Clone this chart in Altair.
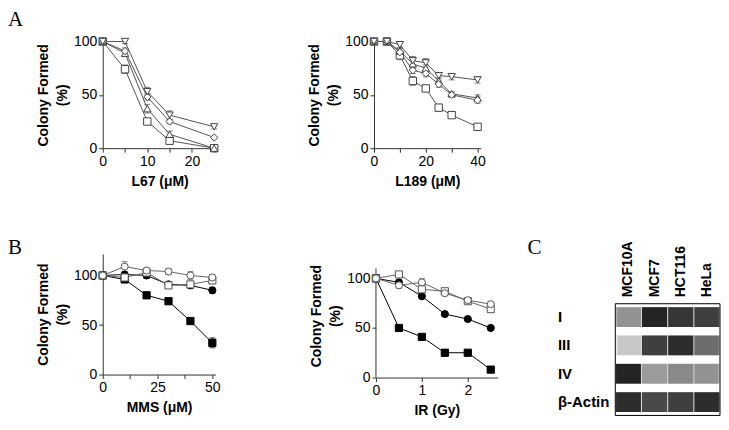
import altair as alt
import pandas as pd

FONT = "Liberation Sans"
SERIF = "Liberation Serif"

# ---------------- Panel A (left): L67 ----------------
a1_x = [0, 5, 10, 15, 25]
a_names = ["A-square", "A-triangle-up", "A-diamond", "A-triangle-down"]
a1_vals = [
    [100, 74, 25, 7, 0],      # square
    [100, 89, 37, 13, 0],     # triangle-up
    [100, 91, 48, 25, 10],    # diamond
    [100, 100, 53, 31, 20],   # triangle-down
]
a1_errs = [
    [0, 4, 2, 1, 0],
    [0, 3, 4, 3, 0],
    [0, 3, 3, 2, 1],
    [0, 2, 4, 4, 2],
]

# ---------------- Panel A (right): L189 ----------------
a2_x = [0, 5, 10, 15, 20, 25, 30, 40]
a2_vals = [
    [100, 100, 87, 63, 56, 38, 31, 20],   # square
    [100, 100, 91, 79, 75, 63, 51, 47],   # triangle-up
    [100, 100, 90, 73, 70, 60, 50, 45],   # diamond
    [100, 100, 97, 82, 80, 68, 67, 64],   # triangle-down
]
a2_errs = [
    [0, 3, 4, 4, 2, 3, 2, 2],
    [0, 2, 3, 4, 3, 3, 2, 3],
    [0, 2, 3, 3, 3, 3, 2, 3],
    [0, 2, 3, 4, 4, 3, 3, 3],
]

# ---------------- Panel B (left): MMS ----------------
b_names = ["B-filled-square", "B-filled-circle", "B-open-square", "B-open-circle"]
b1_x = [0, 10, 20, 30, 40, 50]
b1_vals = [
    [100, 96, 80, 74, 54, 32],
    [100, 101, 100, 91, 90, 85],
    [100, 98, 103, 90, 91, 95],
    [100, 109, 105, 104, 100, 98],
]
b1_errs = [
    [0, 3, 3, 2, 2, 5],
    [0, 2, 3, 3, 3, 3],
    [0, 2, 3, 3, 3, 3],
    [0, 5, 3, 3, 4, 3],
]

# ---------------- Panel B (right): IR ----------------
b2_x = [0, 0.5, 1, 1.5, 2, 2.5]
b2_vals = [
    [100, 50, 41, 25, 25, 8],
    [100, 96, 82, 64, 59, 50],
    [100, 104, 89, 87, 77, 69],
    [100, 93, 96, 85, 78, 74],
]
b2_errs = [
    [0, 1, 1, 3, 1, 3],
    [0, 1, 2, 1, 1, 1],
    [0, 2, 2, 2, 2, 2],
    [0, 3, 4, 2, 2, 2],
]

# marker / line styles for every series (A series first, then B series)
all_names = a_names + b_names
all_shapes = ["square", "triangle-up", "diamond", "triangle-down",
              "square", "circle", "square", "circle"]
all_fills = ["white"] * 4 + ["black", "black", "white", "white"]
all_strokes = ["#444444"] * 4 + ["black", "black", "#555555", "#555555"]
all_line_colors = ["#555555"] * 4 + ["black", "black", "#666666", "#666666"]
all_line_widths = [1] * 4 + [1.6, 1.6, 1, 1]
all_sizes = [55, 50, 50, 50, 50, 30, 55, 55]

# ---------------- Panel C: western blot ----------------
lanes = ["MCF10A", "MCF7", "HCT116", "HeLa"]
blot_rows = ["I", "III", "IV", "β-Actin"]
blot_intensity = [
    [0.35, 0.95, 0.85, 0.80],   # I
    [0.05, 0.80, 0.90, 0.55],   # III
    [0.95, 0.30, 0.40, 0.35],   # IV
    [0.90, 0.75, 0.80, 0.90],   # beta-actin
]

color_scale = alt.Scale(domain=all_names, range=all_line_colors)
width_scale = alt.Scale(domain=all_names, range=all_line_widths)
shape_scale = alt.Scale(domain=all_names, range=all_shapes)
fill_scale = alt.Scale(domain=all_names, range=all_fills)
stroke_scale = alt.Scale(domain=all_names, range=all_strokes)
size_scale = alt.Scale(domain=all_names, range=all_sizes)


def make_panel(x_vals, names, vals, errs, xdom, xticks, label_mod, xtitle,
               ydom, w, h, letter=None, letter_xy=(0, 0), axis_top=None):
    rows = []
    for name, vs, es in zip(names, vals, errs):
        for xv, v, e in zip(x_vals, vs, es):
            rows.append({"x": xv, "val": v, "err": e, "series": name})
    df = pd.DataFrame(rows)
    xs = alt.Scale(domain=xdom, nice=False, zero=False)
    ys = alt.Scale(domain=ydom, nice=False, zero=False)
    xax = alt.Axis(values=xticks,
                   labelExpr=f"datum.value % {label_mod} === 0 ? '' + datum.value : ''",
                   title=xtitle, grid=False, tickSize=4, labelPadding=2,
                   titlePadding=6, labelFlush=False)
    yax = alt.Axis(values=[0, 50, 100], title=["Colony Formed", "(%)"],
                   grid=False, tickSize=4, labelPadding=2, titlePadding=4,
                   titleLineHeight=19, domain=axis_top is None)
    X = alt.X("x:Q", scale=xs, axis=xax)
    Y = alt.Y("val:Q", scale=ys, axis=yax)
    base = alt.Chart(df)
    lines = base.mark_line().encode(
        x=X, y=Y,
        color=alt.Color("series:N", scale=color_scale, legend=None),
        strokeWidth=alt.StrokeWidth("series:O", scale=width_scale, legend=None),
    )
    errbars = base.mark_errorbar(ticks=True, size=6, thickness=1).encode(
        x=X, y=Y, yError="err:Q",
        color=alt.Color("series:N", scale=color_scale, legend=None),
    )
    pts = base.mark_point(filled=True, opacity=1, strokeWidth=1).encode(
        x=X, y=Y,
        shape=alt.Shape("series:N", scale=shape_scale, legend=None),
        fill=alt.Fill("series:N", scale=fill_scale, legend=None),
        stroke=alt.Stroke("series:N", scale=stroke_scale, legend=None),
        size=alt.Size("series:O", scale=size_scale, legend=None),
    )
    layers = [lines, errbars, pts]
    if axis_top is not None:
        axis_line = alt.Chart(pd.DataFrame({"a": [0]})).mark_rule(color="#333333").encode(
            x=alt.datum(0), y=alt.datum(0), y2=alt.datum(axis_top))
        layers.insert(0, axis_line)
    if letter is not None:
        lt = alt.Chart(pd.DataFrame({"t": [letter]})).mark_text(
            font=SERIF, fontSize=21, align="left", baseline="alphabetic"
        ).encode(text="t:N", x=alt.value(letter_xy[0]), y=alt.value(letter_xy[1]))
        layers.append(lt)
    return alt.layer(*layers).properties(width=w, height=h)


A1 = make_panel(a1_x, a_names, a1_vals, a1_errs,
                xdom=[0, 25.5], xticks=[0, 5, 10, 15, 20, 25], label_mod=10,
                xtitle="L67 (μM)", ydom=[0, 100], w=114, h=107,
                letter="A", letter_xy=(-95, -16))
A2 = make_panel(a2_x, a_names, a2_vals, a2_errs,
                xdom=[0, 41.2], xticks=[0, 10, 20, 30, 40], label_mod=20,
                xtitle="L189 (μM)", ydom=[0, 100], w=107, h=107)
B1 = make_panel(b1_x, b_names, b1_vals, b1_errs,
                xdom=[0, 51.4], xticks=[0, 12.5, 25, 37.5, 50], label_mod=25,
                xtitle="MMS (μM)", ydom=[0, 121.8], w=113, h=121,
                letter="B", letter_xy=(-95, 0))
B2 = make_panel(b2_x, b_names, b2_vals, b2_errs,
                xdom=[0, 2.65], xticks=[0, 0.5, 1, 1.5, 2, 2.5], label_mod=1,
                xtitle="IR (Gy)", ydom=[0, 124.7], w=122, h=124, axis_top=110)

# Western blot panel
cells = []
for r, row_vals in zip(blot_rows, blot_intensity):
    for ln, v in zip(lanes, row_vals):
        cells.append({"row": r, "lane": ln, "intensity": v})
cell_df = pd.DataFrame(cells)
strip_df = pd.DataFrame({"row": blot_rows})

C_W, C_H = 105, 162
yscale = alt.Scale(domain=blot_rows, range=[50, C_H], paddingInner=0.3, paddingOuter=0.12)
xscale = alt.Scale(domain=lanes, paddingInner=0.04, paddingOuter=0.02)
row_axis = alt.Axis(title=None, orient="left", domain=False, ticks=False, tickSize=0,
                    labelAlign="left", labelPadding=58, labelFontWeight="bold",
                    labelFontSize=15, labelFont=FONT)
lane_axis = alt.Axis(title=None, orient="top", domain=False, ticks=False, tickSize=0,
                     labelAngle=-90, labelPadding=7, labelFontWeight="bold",
                     labelFontSize=14, offset=-50, labelFont=FONT)

strips = alt.Chart(strip_df).mark_rect(color="#d6d6d6").encode(
    y=alt.Y("row:N", scale=yscale, axis=row_axis),
    x=alt.value(2), x2=alt.value(C_W - 2),
)
bands = alt.Chart(cell_df).mark_rect(color="#111111").encode(
    x=alt.X("lane:N", scale=xscale, axis=lane_axis),
    y=alt.Y("row:N", scale=yscale, axis=row_axis),
    opacity=alt.Opacity("intensity:Q", scale=alt.Scale(domain=[0, 1], range=[0.02, 0.95]),
                        legend=None),
)
frame = alt.Chart(pd.DataFrame({"a": [0]})).mark_rect(
    filled=False, stroke="black", strokeWidth=1
).encode(x=alt.value(0), x2=alt.value(C_W), y=alt.value(50), y2=alt.value(C_H))
c_letter = alt.Chart(pd.DataFrame({"t": ["C"]})).mark_text(
    font=SERIF, fontSize=21, align="left", baseline="alphabetic"
).encode(text="t:N", x=alt.value(-88), y=alt.value(0))
C = alt.layer(strips, bands, frame, c_letter).properties(width=C_W, height=C_H)

row1 = alt.hconcat(A1, A2, spacing=87)
row2 = alt.hconcat(alt.hconcat(B1, B2, spacing=89), C, spacing=30)

chart = alt.vconcat(row1, row2, spacing=49).properties(
    padding={"left": 0, "top": 0, "right": 0, "bottom": 0}
).configure_view(stroke=None).configure_axis(
    labelFont=FONT, labelFontSize=14, labelColor="black",
    titleFont=FONT, titleFontSize=14, titleFontWeight="bold", titleColor="black",
    domainColor="#333333", tickColor="#333333", grid=False,
).configure_text(font=FONT)

chart.save("out.html", embed_options={"renderer": "svg", "actions": False})
